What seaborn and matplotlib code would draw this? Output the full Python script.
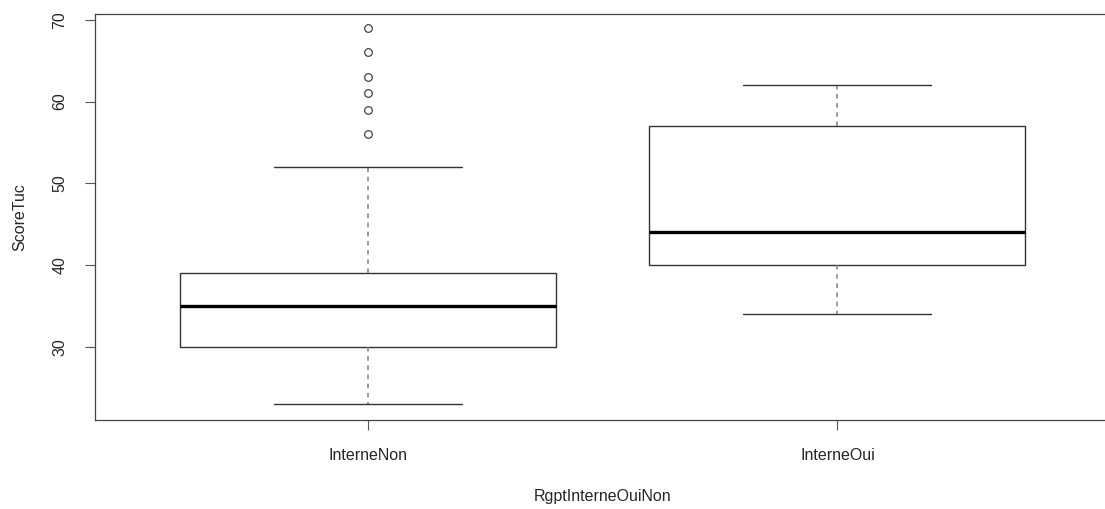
import matplotlib
matplotlib.use("Agg")
import matplotlib.pyplot as plt
import seaborn as sns
import pandas as pd

# scores (quartiles, whiskers, outliers)
interne_non = [23, 24, 25, 26, 27, 28, 28, 29, 29, 30, 30, 31, 31, 32, 32, 33, 33,
               34, 34, 35, 35, 35, 36, 36, 37, 37, 38, 38, 38, 39, 39, 41, 44, 48,
               52, 56, 59, 61, 63, 66, 69]
interne_oui = [34, 36, 37, 38, 39, 40, 41, 42, 43, 43, 44, 46, 49, 52, 55, 57, 58,
               59, 60, 61, 62]
groups = ["InterneNon", "InterneOui"]
y_ticks = [30, 40, 50, 60, 70]

df = pd.DataFrame({
    "RgptInterneOuiNon": [groups[0]] * len(interne_non) + [groups[1]] * len(interne_oui),
    "ScoreTuc": interne_non + interne_oui,
})

sns.set_style("white")
plt.rcParams["font.family"] = ["Liberation Sans", "DejaVu Sans"]

fig = plt.figure(figsize=(11.05, 5.09), dpi=100)
ax = fig.add_axes([95 / 1105, 89 / 509, 1015 / 1105, 406 / 509])

sns.boxplot(
    data=df, x="RgptInterneOuiNon", y="ScoreTuc", order=groups, ax=ax,
    width=0.8, color="white", linecolor="black", linewidth=1.0,
    whis=1.5,
    boxprops=dict(edgecolor="#333333", linewidth=1.0, facecolor="white"),
    whiskerprops=dict(color="#808080", linestyle=(0, (3, 3)), linewidth=1.1),
    capprops=dict(color="#333333", linewidth=1.0),
    medianprops=dict(color="black", linewidth=2.4),
    flierprops=dict(marker="o", markersize=5.5, markerfacecolor="none",
                    markeredgecolor="#444444", markeredgewidth=0.9),
)

ax.set_xlim(-0.58, 1.58)
ax.set_ylim(21.07, 70.7)
ax.set_yticks(y_ticks)
ax.set_yticklabels([str(t) for t in y_ticks], rotation=90, va="center")
ax.tick_params(axis="both", direction="out", length=7, width=0.8, color="#555555",
               labelsize=11.5, left=True, bottom=True)
ax.tick_params(axis="y", pad=13)
ax.tick_params(axis="x", pad=13)
for s in ax.spines.values():
    s.set_color("#444444")
    s.set_linewidth(0.9)

ax.set_xlabel("RgptInterneOuiNon", fontsize=11.5, labelpad=19)
ax.set_ylabel("ScoreTuc", fontsize=11.5, labelpad=18)

fig.savefig("out.png", dpi=100)
